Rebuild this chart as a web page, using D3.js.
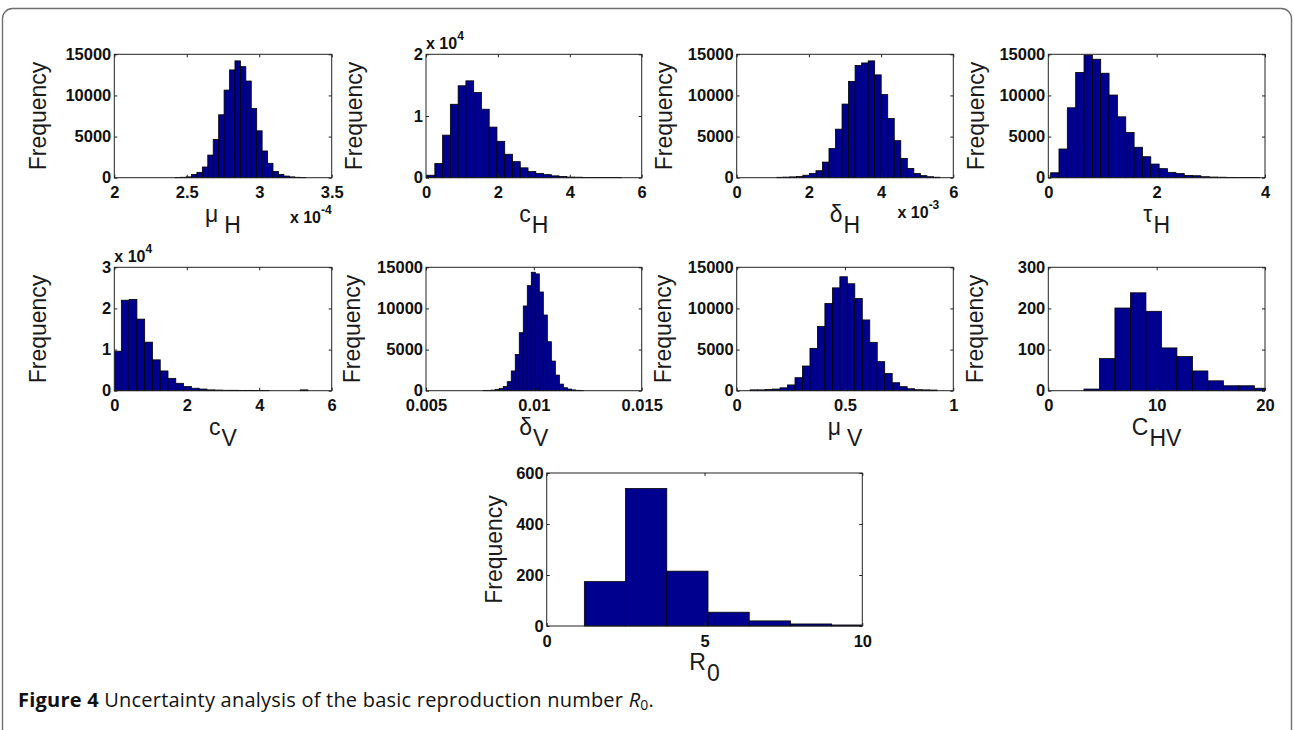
<!DOCTYPE html>
<html>
<head>
<meta charset="utf-8">
<script src="https://cdn.jsdelivr.net/npm/d3@7"></script>
<style>
  body { margin: 0; background: #fff; }
  svg { display: block; }
  .tick text { font-family: "Liberation Sans", Arial, sans-serif; font-weight: bold; font-size: 16.5px; fill: #111; }
</style>
</head>
<body>
<div id="chart"></div>
<script>
// histogram counts, each spread over equal-width bins across its range
var muHCounts = [20, 50, 100, 400, 650, 1300, 2750, 4650, 7650, 10650, 13100, 14200, 13500, 11750, 8400, 5700, 3250, 1750, 750, 400, 200, 100, 50, 30];
var muHRange = [2.42, 3.32];           // x 10^-4
var cHCounts = [400, 2300, 6900, 11900, 14900, 15700, 13800, 11100, 8200, 5900, 3800, 2600, 1600, 1000, 700, 500, 300, 200, 100, 80, 50, 40, 30, 20, 20];
var cHRange = [0.03, 5.43];
var deltaHCounts = [50, 70, 100, 150, 300, 500, 850, 1900, 3550, 5900, 8950, 11700, 13650, 13950, 14200, 12500, 10100, 7200, 4500, 2350, 1130, 500, 250, 120, 60];
var deltaHRange = [1.11, 5.63];        // x 10^-3
var tauHCounts = [600, 3490, 8500, 12800, 14900, 14400, 12700, 10050, 7400, 5500, 3700, 2550, 1660, 1100, 650, 500, 280, 240, 120, 80, 60, 40, 30, 20, 20];
var tauHRange = [0.043, 3.895];
var cVCounts = [9600, 22000, 22200, 17400, 11800, 7500, 4800, 3000, 1800, 1000, 600, 400, 200, 150, 100, 100, 80, 80, 50, 30, 0, 0, 0, 0, 200];
var cVRange = [-0.02, 5.345];
var deltaVCounts = [20, 40, 70, 150, 280, 500, 1100, 2400, 4400, 7050, 10300, 12770, 14400, 14200, 12000, 9200, 5950, 3600, 1900, 800, 360, 200, 100, 50, 30];
var deltaVRange = [0.00765, 0.0123];
var muVCounts = [100, 100, 150, 200, 350, 700, 1580, 3000, 5150, 7800, 10600, 12500, 13850, 13000, 11200, 8600, 5880, 3530, 2100, 970, 490, 240, 120, 100, 80];
var muVRange = [0.062, 0.925];
var cHVCounts = [4, 78, 201, 238, 193, 104, 83, 48, 24, 12, 12, 6];
var cHVRange = [3.29, 20.45];
var r0Counts = [174, 539, 215, 54, 20, 8, 4];
var r0Range = [1.193, 10.335];

// tick values
var muHTicks = [2, 2.5, 3, 3.5];
var zeroToSixTicks = [0, 2, 4, 6];
var tauHTicks = [0, 2, 4];
var deltaVTicks = [0.005, 0.01, 0.015];
var muVTicks = [0, 0.5, 1];
var cHVTicks = [0, 10, 20];
var r0Ticks = [0, 5, 10];
var freq15kTicks = [0, 5000, 10000, 15000];
var cHFreqTicks = [0, 10000, 20000];
var cVFreqTicks = [0, 10000, 20000, 30000];
var cHVFreqTicks = [0, 100, 200, 300];
var r0FreqTicks = [0, 200, 400, 600];

var W = 1294, H = 730;
var barFill = '#00008f';
var axisFont = '"Liberation Sans", Arial, sans-serif';

var per1e4 = function (d) { return String(d / 10000); };

var panels = [
  { counts: muHCounts, range: muHRange, xDomain: [2, 3.5], xTicks: muHTicks, yDomain: [0, 15000], yTicks: freq15kTicks, name: 'μ', sub: 'H', gap: 6, expo: { sup: '-4', pos: 'bottom', dy: 45, dx: 0 } },
  { counts: cHCounts, range: cHRange, xDomain: [0, 6], xTicks: zeroToSixTicks, yDomain: [0, 20000], yTicks: cHFreqTicks, yFmt: per1e4, name: 'c', sub: 'H', gap: 1, expo: { sup: '4', pos: 'top' } },
  { counts: deltaHCounts, range: deltaHRange, xDomain: [0, 6], xTicks: zeroToSixTicks, yDomain: [0, 15000], yTicks: freq15kTicks, name: 'δ', sub: 'H', gap: 1, expo: { sup: '-3', pos: 'bottom', dy: 40, dx: -14 } },
  { counts: tauHCounts, range: tauHRange, xDomain: [0, 4], xTicks: tauHTicks, yDomain: [0, 15000], yTicks: freq15kTicks, name: 'τ', sub: 'H', gap: 1 },
  { counts: cVCounts, range: cVRange, xDomain: [0, 6], xTicks: zeroToSixTicks, yDomain: [0, 30000], yTicks: cVFreqTicks, yFmt: per1e4, name: 'c', sub: 'V', gap: 1, expo: { sup: '4', pos: 'top' } },
  { counts: deltaVCounts, range: deltaVRange, xDomain: [0.005, 0.015], xTicks: deltaVTicks, yDomain: [0, 15000], yTicks: freq15kTicks, name: 'δ', sub: 'V', gap: 1 },
  { counts: muVCounts, range: muVRange, xDomain: [0, 1], xTicks: muVTicks, yDomain: [0, 15000], yTicks: freq15kTicks, name: 'μ', sub: 'V', gap: 6 },
  { counts: cHVCounts, range: cHVRange, xDomain: [0, 20], xTicks: cHVTicks, yDomain: [0, 300], yTicks: cHVFreqTicks, name: 'C', sub: 'HV', gap: 1 },
  { counts: r0Counts, range: r0Range, xDomain: [0, 10], xTicks: r0Ticks, yDomain: [0, 600], yTicks: r0FreqTicks, name: 'R', sub: '0', gap: 1 }
];

// plot boxes: left, top, right, bottom, y-label offset
var boxes = [
  [114.3, 54.3, 331.7, 177.7, 68], [426, 54.3, 641.7, 177.7, 64], [736.7, 54.3, 953.3, 177.7, 65], [1048.3, 54.3, 1265, 177.7, 64],
  [114.3, 267.3, 331.7, 390.7, 68], [426, 267.3, 641.7, 390.7, 66], [736.7, 267.3, 953.3, 390.7, 66], [1048.3, 267.3, 1265, 390.7, 65],
  [546.7, 473, 862.3, 626, 45]
];

var svg = d3.select('#chart').append('svg')
  .attr('xmlns', 'http://www.w3.org/2000/svg')
  .attr('width', W).attr('height', H);

svg.append('rect').attr('width', W).attr('height', H).attr('fill', '#fff');

// figure frame
svg.append('rect')
  .attr('x', 2.5).attr('y', 8.5).attr('width', 1289).attr('height', 760).attr('rx', 10)
  .attr('fill', 'none').attr('stroke', '#6f6f6f').attr('stroke-width', 1.4);

var defs = svg.append('defs');

panels.forEach(function (p, i) {
  var b = boxes[i];
  var x = d3.scaleLinear().domain(p.xDomain).range([b[0], b[2]]);
  var y = d3.scaleLinear().domain(p.yDomain).range([b[3], b[1]]);
  var n = p.counts.length;
  var edge = d3.scaleLinear().domain([0, n]).range(p.range);
  var g = svg.append('g');

  defs.append('clipPath').attr('id', 'clip' + i).append('rect')
    .attr('x', b[0]).attr('y', b[1] - 1).attr('width', b[2] - b[0]).attr('height', b[3] - b[1] + 2);

  g.append('g').attr('clip-path', 'url(#clip' + i + ')')
    .selectAll('rect').data(p.counts).join('rect')
    .attr('x', function (d, j) { return x(edge(j)); })
    .attr('width', function (d, j) { return x(edge(j + 1)) - x(edge(j)); })
    .attr('y', function (d) { return y(d); })
    .attr('height', function (d) { return y(0) - y(d); })
    .attr('fill', barFill).attr('stroke', '#000').attr('stroke-width', 0.8);

  var fmtX = function (d) { return String(d); };
  var fmtY = p.yFmt || function (d) { return String(d); };

  var ax = g.append('g').attr('color', '#222');
  ax.append('g').attr('transform', 'translate(0,' + b[3] + ')')
    .call(d3.axisBottom(x).tickValues(p.xTicks).tickFormat(fmtX).tickSizeInner(-3).tickSizeOuter(0).tickPadding(9));
  ax.append('g').attr('transform', 'translate(0,' + b[1] + ')')
    .call(d3.axisTop(x).tickValues(p.xTicks).tickFormat('').tickSizeInner(-3).tickSizeOuter(0));
  ax.append('g').attr('transform', 'translate(' + b[0] + ',0)')
    .call(d3.axisLeft(y).tickValues(p.yTicks).tickFormat(fmtY).tickSizeInner(-3).tickSizeOuter(0).tickPadding(3));
  ax.append('g').attr('transform', 'translate(' + b[2] + ',0)')
    .call(d3.axisRight(y).tickValues(p.yTicks).tickFormat('').tickSizeInner(-3).tickSizeOuter(0));
  ax.selectAll('.domain').remove();

  g.append('rect')
    .attr('x', b[0]).attr('y', b[1]).attr('width', b[2] - b[0]).attr('height', b[3] - b[1])
    .attr('fill', 'none').attr('stroke', '#222').attr('stroke-width', 1);

  // y label
  g.append('text')
    .attr('transform', 'translate(' + (b[0] - b[4]) + ',' + ((b[1] + b[3]) / 2) + ') rotate(-90)')
    .attr('text-anchor', 'middle')
    .style('font-family', axisFont).style('font-size', '23px').attr('fill', '#1a1a1a')
    .text('Frequency');

  // x label with subscript
  var xl = g.append('text')
    .attr('x', (b[0] + b[2]) / 2).attr('y', b[3] + 44)
    .attr('text-anchor', 'middle')
    .style('font-family', axisFont).style('font-size', '23px').attr('fill', '#1a1a1a');
  xl.append('tspan').text(p.name);
  xl.append('tspan').attr('dx', p.gap).attr('dy', 11).text(p.sub);

  // exponent multiplier
  if (p.expo) {
    var ex = g.append('text')
      .style('font-family', axisFont).style('font-size', '16px').style('font-weight', 'bold').attr('fill', '#111');
    if (p.expo.pos === 'top') {
      ex.attr('x', b[0]).attr('y', b[1] - 5).attr('text-anchor', 'start');
    } else {
      ex.attr('x', b[2] + p.expo.dx).attr('y', b[3] + p.expo.dy).attr('text-anchor', 'end');
    }
    ex.append('tspan').text('x 10');
    ex.append('tspan').attr('dy', -9).style('font-size', '12px').text(p.expo.sup);
  }
});

// caption
var cap = svg.append('text')
  .attr('x', 18).attr('y', 707)
  .style('font-family', '"Open Sans", "Noto Sans", sans-serif').style('font-size', '20px').attr('fill', '#111');
cap.append('tspan').style('font-weight', 'bold').text('Figure 4');
cap.append('tspan').text(' Uncertainty analysis of the basic reproduction number ');
cap.append('tspan').style('font-style', 'italic').text('R');
cap.append('tspan').attr('dy', 3).style('font-size', '14px').text('0');
cap.append('tspan').attr('dy', -3).text('.');
var capW = cap.node().getComputedTextLength();
var capChars = cap.text().length;
cap.style('letter-spacing', ((636 - capW) / capChars) + 'px');
</script>
</body>
</html>
